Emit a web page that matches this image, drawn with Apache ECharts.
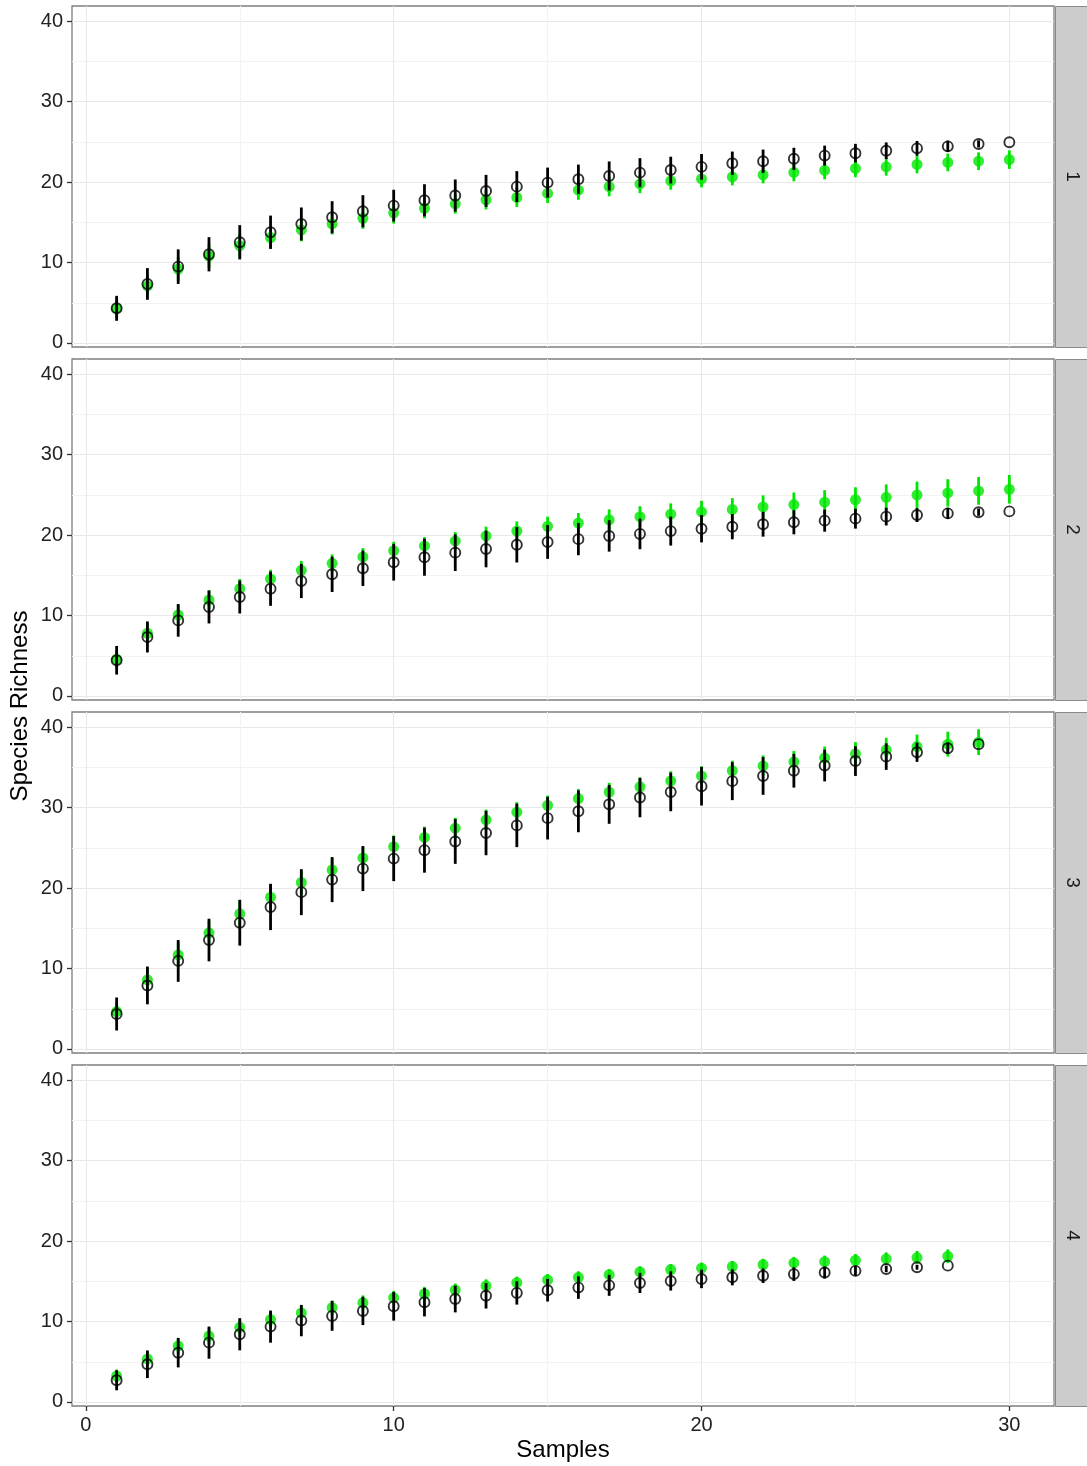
<!DOCTYPE html>
<html lang="en">
<head>
    <meta charset="UTF-8">
    <title>Species Richness</title>
    <script src="https://cdn.jsdelivr.net/npm/echarts@6/dist/echarts.min.js"></script>
    <style>
        html, body { margin: 0; padding: 0; background: #fff; }
        #chart { width: 1087px; height: 1466px; }
    </style>
</head>
<body>
    <div id="chart"></div>
    <script>
        // facet labels and sample numbers
        const panels = ['1', '2', '3', '4'];
        const samples = [1, 2, 3, 4, 5, 6, 7, 8, 9, 10, 11, 12, 13, 14, 15, 16, 17, 18, 19, 20, 21, 22, 23, 24, 25, 26, 27, 28, 29, 30];
        const xTicks = [0, 10, 20, 30];
        const xMinorTicks = [5, 15, 25];
        const yTicks = [0, 10, 20, 30, 40];
        const yMinorTicks = [5, 15, 25, 35];

        // black open circles (mean, sd)
        const blackMean1 = [4.31, 7.34, 9.49, 11.03, 12.52, 13.77, 14.8, 15.63, 16.38, 17.08, 17.74, 18.33, 18.9, 19.44, 19.94, 20.36, 20.77, 21.18, 21.5, 21.9, 22.35, 22.6, 22.9, 23.3, 23.6, 23.9, 24.2, 24.45, 24.75, 24.95];
        const blackSd1 = [1.55, 1.97, 2.15, 2.13, 2.13, 2.07, 2.05, 2.0, 2.0, 1.97, 2.0, 2.0, 2.0, 1.93, 1.87, 1.82, 1.8, 1.8, 1.66, 1.6, 1.45, 1.45, 1.37, 1.24, 1.16, 1.03, 0.92, 0.7, 0.45, 0];
        const blackMean2 = [4.44, 7.34, 9.4, 11.07, 12.31, 13.34, 14.3, 15.13, 15.88, 16.63, 17.25, 17.82, 18.28, 18.8, 19.15, 19.5, 19.9, 20.15, 20.5, 20.8, 21.05, 21.35, 21.6, 21.8, 22.05, 22.3, 22.5, 22.7, 22.85, 22.95];
        const blackSd2 = [1.78, 1.93, 2.03, 2.05, 2.05, 2.13, 2.13, 2.2, 2.2, 2.28, 2.3, 2.28, 2.28, 2.2, 2.1, 2.0, 1.95, 1.9, 1.8, 1.7, 1.57, 1.54, 1.5, 1.37, 1.24, 1.1, 0.87, 0.7, 0.45, 0];
        const blackMean3 = [4.35, 7.9, 10.95, 13.55, 15.7, 17.66, 19.5, 21.06, 22.43, 23.67, 24.72, 25.8, 26.85, 27.8, 28.7, 29.55, 30.42, 31.26, 31.96, 32.67, 33.3, 33.95, 34.6, 35.24, 35.8, 36.35, 36.9, 37.4, 37.9];
        const blackSd3 = [2.05, 2.35, 2.6, 2.65, 2.85, 2.88, 2.86, 2.8, 2.8, 2.8, 2.8, 2.78, 2.76, 2.7, 2.65, 2.6, 2.42, 2.45, 2.4, 2.4, 2.36, 2.35, 2.1, 1.97, 1.85, 1.65, 1.2, 0.7, 0];
        const blackMean4 = [2.7, 4.69, 6.13, 7.38, 8.42, 9.37, 10.12, 10.7, 11.32, 11.9, 12.4, 12.8, 13.2, 13.56, 13.89, 14.22, 14.5, 14.8, 15.05, 15.3, 15.5, 15.7, 15.9, 16.1, 16.3, 16.54, 16.75, 16.95];
        const blackSd4 = [1.25, 1.72, 1.83, 2.0, 2.0, 2.0, 1.95, 1.85, 1.76, 1.78, 1.76, 1.66, 1.58, 1.45, 1.4, 1.4, 1.3, 1.25, 1.2, 1.15, 1.0, 0.9, 0.85, 0.75, 0.6, 0.4, 0.3, 0];

        // green filled circles (mean, sd)
        const greenMean1 = [4.3, 7.1, 9.2, 10.8, 12.1, 13.1, 14.05, 14.8, 15.5, 16.15, 16.75, 17.29, 17.8, 18.1, 18.6, 19.0, 19.44, 19.78, 20.15, 20.4, 20.65, 20.9, 21.2, 21.45, 21.7, 21.9, 22.2, 22.45, 22.6, 22.8];
        const greenSd1 = [1.2, 1.4, 1.5, 1.5, 1.5, 1.4, 1.4, 1.3, 1.3, 1.3, 1.25, 1.2, 1.2, 1.2, 1.2, 1.2, 1.2, 1.15, 1.1, 1.05, 1.05, 1.05, 1.1, 1.1, 1.1, 1.1, 1.1, 1.1, 1.1, 1.15];
        const greenMean2 = [4.56, 7.8, 10.07, 11.94, 13.34, 14.55, 15.63, 16.5, 17.29, 18.07, 18.66, 19.28, 19.9, 20.5, 21.1, 21.5, 21.9, 22.3, 22.6, 22.9, 23.2, 23.5, 23.8, 24.1, 24.4, 24.7, 25.0, 25.25, 25.5, 25.7];
        const greenSd2 = [1.1, 1.2, 1.2, 1.2, 1.2, 1.15, 1.15, 1.1, 1.1, 1.1, 1.1, 1.1, 1.15, 1.2, 1.2, 1.25, 1.3, 1.3, 1.35, 1.37, 1.4, 1.45, 1.5, 1.5, 1.55, 1.6, 1.65, 1.7, 1.72, 1.78];
        const greenMean3 = [4.65, 8.6, 11.7, 14.45, 16.8, 18.87, 20.7, 22.26, 23.75, 25.15, 26.3, 27.45, 28.48, 29.44, 30.3, 31.13, 31.95, 32.6, 33.33, 33.95, 34.6, 35.2, 35.7, 36.2, 36.7, 37.2, 37.6, 37.9, 38.15];
        const greenSd3 = [1.2, 1.4, 1.5, 1.5, 1.5, 1.5, 1.5, 1.45, 1.4, 1.4, 1.35, 1.3, 1.3, 1.25, 1.2, 1.2, 1.15, 1.15, 1.2, 1.2, 1.25, 1.3, 1.35, 1.4, 1.45, 1.5, 1.5, 1.55, 1.6];
        const greenMean4 = [3.23, 5.35, 6.97, 8.2, 9.29, 10.24, 11.07, 11.73, 12.35, 12.97, 13.47, 13.93, 14.45, 14.84, 15.17, 15.5, 15.83, 16.17, 16.46, 16.63, 16.83, 17.08, 17.29, 17.45, 17.62, 17.8, 17.95, 18.12];
        const greenSd4 = [0.8, 0.9, 1.0, 1.0, 1.0, 0.95, 0.95, 0.9, 0.9, 0.85, 0.85, 0.8, 0.8, 0.75, 0.75, 0.75, 0.7, 0.7, 0.7, 0.7, 0.7, 0.72, 0.75, 0.75, 0.78, 0.8, 0.82, 0.85];

        const blackMeans = [blackMean1, blackMean2, blackMean3, blackMean4];
        const blackSds = [blackSd1, blackSd2, blackSd3, blackSd4];
        const greenMeans = [greenMean1, greenMean2, greenMean3, greenMean4];
        const greenSds = [greenSd1, greenSd2, greenSd3, greenSd4];

        // layout
        const panelTops = [6, 359, 712, 1065];
        const panelH = 341;
        const plotLeft = 72;
        const plotW = 982;
        const xRange = [-0.45, 31.45];
        const yRange = [-0.5, 41.9];
        const GREEN = '#00e600';
        const FONT = '"Liberation Sans", Arial, sans-serif';

        const grids = [], xAxes = [], yAxes = [], series = [], graphics = [];

        function errorBars(i, mean, sd, color, z) {
            return {
                type: 'custom',
                xAxisIndex: 2 * i + 1,
                yAxisIndex: 2 * i + 1,
                z: z,
                silent: true,
                data: mean.map((m, k) => [samples[k], m - sd[k], m + sd[k]]),
                renderItem: function (params, api) {
                    const lo = api.coord([api.value(0), api.value(1)]);
                    const hi = api.coord([api.value(0), api.value(2)]);
                    return {
                        type: 'line',
                        shape: { x1: lo[0], y1: lo[1], x2: hi[0], y2: hi[1] },
                        style: { stroke: color, lineWidth: 2.8 }
                    };
                }
            };
        }

        panels.forEach((p, i) => {
            const last = i === panels.length - 1;
            grids.push({
                left: plotLeft, top: panelTops[i], width: plotW, height: panelH,
                show: true, backgroundColor: '#fff', borderColor: '#7f7f7f', borderWidth: 1.3
            });
            // minor grid axes (drawn first, nothing but their grid lines)
            xAxes.push({
                gridIndex: i, type: 'value', position: 'top', min: xRange[0], max: xRange[1],
                axisLine: { show: false, onZero: false }, axisLabel: { show: false, customValues: xMinorTicks },
                axisTick: { show: false, customValues: xMinorTicks },
                splitLine: { show: true, lineStyle: { color: '#f3f3f3', width: 1 } }
            });
            yAxes.push({
                gridIndex: i, type: 'value', position: 'right', min: yRange[0], max: yRange[1],
                axisLine: { show: false, onZero: false }, axisLabel: { show: false, customValues: yMinorTicks },
                axisTick: { show: false, customValues: yMinorTicks },
                splitLine: { show: true, lineStyle: { color: '#f3f3f3', width: 1 } }
            });
            // major axes
            xAxes.push({
                gridIndex: i, type: 'value', position: 'bottom', min: xRange[0], max: xRange[1],
                axisLine: { show: false, onZero: false },
                axisTick: { show: last, customValues: xTicks, length: 5, lineStyle: { color: '#333', width: 1.3 } },
                axisLabel: { show: last, customValues: xTicks, margin: 9, fontSize: 20, color: '#222', fontFamily: FONT },
                splitLine: { show: true, lineStyle: { color: '#e8e8e8', width: 1 } }
            });
            yAxes.push({
                gridIndex: i, type: 'value', position: 'left', min: yRange[0], max: yRange[1],
                axisLine: { show: false, onZero: false },
                axisTick: { show: true, customValues: yTicks, length: 5, lineStyle: { color: '#333', width: 1.3 } },
                axisLabel: { show: true, customValues: yTicks, margin: 9, fontSize: 20, color: '#222', fontFamily: FONT },
                splitLine: { show: true, lineStyle: { color: '#e8e8e8', width: 1 } }
            });

            series.push(errorBars(i, greenMeans[i], greenSds[i], GREEN, 3));
            series.push({
                type: 'scatter', xAxisIndex: 2 * i + 1, yAxisIndex: 2 * i + 1, z: 4, silent: true,
                symbol: 'circle', symbolSize: 11,
                data: greenMeans[i].map((m, k) => [samples[k], m]),
                itemStyle: { color: GREEN }
            });
            series.push(errorBars(i, blackMeans[i], blackSds[i], '#000', 5));
            series.push({
                type: 'scatter', xAxisIndex: 2 * i + 1, yAxisIndex: 2 * i + 1, z: 6, silent: true,
                symbol: 'circle', symbolSize: 10,
                data: blackMeans[i].map((m, k) => [samples[k], m]),
                itemStyle: { color: 'rgba(0,0,0,0)', borderColor: '#000', borderWidth: 1.9 }
            });

            // facet strip
            graphics.push({
                type: 'rect', left: plotLeft + plotW + 1, top: panelTops[i],
                shape: { width: 33, height: panelH },
                style: { fill: '#cccccc', stroke: '#8a8a8a', lineWidth: 1 }
            });
            graphics.push({
                type: 'text', x: plotLeft + plotW + 18, y: panelTops[i] + panelH / 2, rotation: -Math.PI / 2,
                style: { text: p, fill: '#1a1a1a', font: '19px ' + FONT, align: 'center', verticalAlign: 'middle' }
            });
        });

        graphics.push({
            type: 'text', x: 20, y: 706, rotation: Math.PI / 2,
            style: { text: 'Species Richness', fill: '#000', font: '24px ' + FONT, align: 'center', verticalAlign: 'middle' }
        });
        graphics.push({
            type: 'text', x: plotLeft + plotW / 2, y: 1450,
            style: { text: 'Samples', fill: '#000', font: '24px ' + FONT, align: 'center', verticalAlign: 'middle' }
        });

        const chart = echarts.init(document.getElementById('chart'));
        chart.setOption({
            animation: false,
            backgroundColor: '#fff',
            grid: grids,
            xAxis: xAxes,
            yAxis: yAxes,
            series: series,
            graphic: graphics
        });
    </script>
</body>
</html>
